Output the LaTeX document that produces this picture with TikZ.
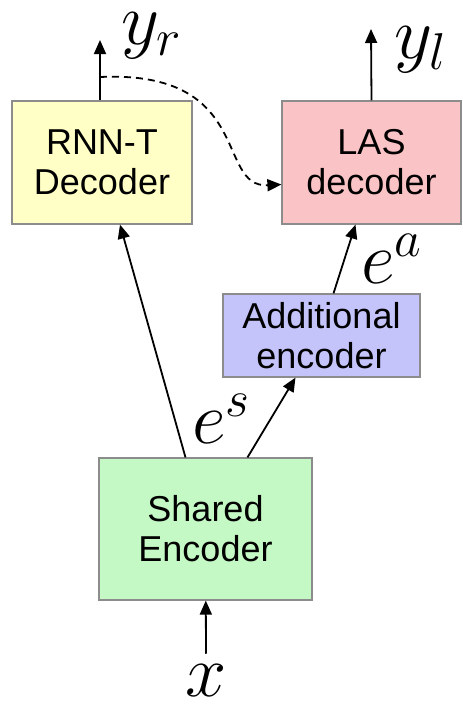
\RequirePackage{fix-cm}
\documentclass[tikz,border=0pt]{standalone}
\usepackage{fontspec}
\setmainfont{Liberation Sans}
\usetikzlibrary{arrows.meta}
\definecolor{decyellow}{RGB}{255,255,198}
\definecolor{laspink}{RGB}{250,196,198}
\definecolor{addblue}{RGB}{196,196,250}
\definecolor{sharedgreen}{RGB}{196,248,196}
\tikzstyle{block}=[draw=gray!90, line width=0.6pt, align=center, inner sep=0pt, font=\fontsize{18}{20}\selectfont]
\tikzstyle{sym}=[inner sep=0pt, anchor=base west, font=\fontsize{37}{40}\selectfont]
\tikzstyle{arr}=[-{Triangle[length=7pt,width=6pt]}, line width=0.9pt]

\begin{document}
\begin{tikzpicture}[x=0.5pt, y=-0.5pt]
    \useasboundingbox (0,0) rectangle (462,708);
% Blocks
    \node[block, fill=decyellow, minimum width=90pt, minimum height=61.5pt] (rnnt) at (102,162.5) {RNN-T\\Decoder};
    \node[block, fill=laspink, minimum width=89.5pt, minimum height=61.5pt] (las) at (371.5,162.5) {LAS\\decoder};
    \node[block, fill=addblue, minimum width=98.5pt, minimum height=41.5pt] (addenc) at (321.5,335.5) {Additional\\encoder};
    \node[block, fill=sharedgreen, minimum width=106.5pt, minimum height=71pt] (shared) at (205.5,529) {Shared\\Encoder};
% Symbols
    \node[sym] (yr) at (121,44) {$y_r$};
    \node[sym] (yl) at (394,58) {$y_l$};
    \node[sym] (ea) at (361,283) {$e^a$};
    \node[sym] (es) at (192,443) {$e^s$};
    \node[sym, anchor=base] (x) at (206,696) {$x$};
% Free ends
    \coordinate (yrtip) at (100,40);
    \coordinate (yltip) at (371,29);
    \coordinate (tap) at (100,77);
% Arrows
    \draw[arr] ([yshift=5pt]x.north) -- (shared);
    \draw[arr] ([xshift=-10pt]shared.north) -- ([xshift=9pt]rnnt.south);
    \draw[arr] ([xshift=21pt]shared.north) -- ([xshift=-13pt]addenc.south);
    \draw[arr] ([xshift=6pt]addenc.north) -- ([xshift=-8pt]las.south);
    \draw[arr] ([xshift=-1pt]rnnt.north) -- (yrtip);
    \draw[arr] (las.north) -- (yltip);
    \draw[arr, line width=0.9pt, dash pattern=on 3.5pt off 2.5pt] (tap) .. controls (255,70) and (215,188) .. ([yshift=-11pt]las.west);
\end{tikzpicture}
\end{document}
